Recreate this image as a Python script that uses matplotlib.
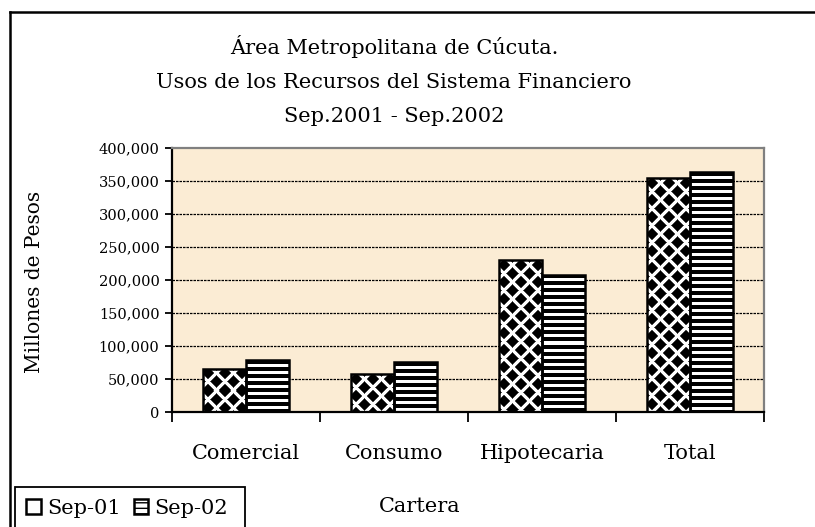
import matplotlib
matplotlib.use("Agg")
import matplotlib.pyplot as plt
from matplotlib.patches import Rectangle, Patch
from matplotlib.lines import Line2D
import numpy as np

categories = ["Comercial", "Consumo", "Hipotecaria", "Total"]
sep01 = [65600, 57100, 229800, 354000]
sep02 = [78300, 75300, 208000, 363100]
series_labels = ["Sep-01", "Sep-02"]
y_ticks = [0, 50000, 100000, 150000, 200000, 250000, 300000, 350000, 400000]

W, H = 815, 527
SERIF = "DejaVu Serif"
PAPER = "#FBECD4"

plt.rcParams["font.family"] = SERIF


def pattern(w, h, kind):
    yy, xx = np.mgrid[0:h, 0:w]
    if kind == "diamond":
        p = 17
        u = (xx + 4) % p
        v = (yy + 4) % p
        centers = [(0, 0), (p, 0), (0, p), (p, p), (p / 2, p / 2)]
        d = np.min([np.abs(u - cx) + np.abs(v - cy) for cx, cy in centers], axis=0)
        return np.clip((d - 5.6) / 1.3, 0, 1)
    return ((yy % 7) >= 4).astype(float)


def fill_bar(ax, bar, kind):
    bb = bar.get_window_extent()
    w = max(int(round(bb.width)), 1)
    h = max(int(round(bb.height)), 1)
    x0, y0 = bar.get_x(), bar.get_y()
    x1, y1 = x0 + bar.get_width(), y0 + bar.get_height()
    im = ax.imshow(pattern(w, h, kind), extent=(x0, x1, y0, y1), cmap="gray",
                   vmin=0, vmax=1, interpolation="nearest", aspect="auto", zorder=2)
    im.set_clip_path(bar)


fig = plt.figure(figsize=(W / 100, H / 100), dpi=100)
ax = fig.add_axes([172 / W, 1 - 412 / H, (764 - 172) / W, (412 - 148) / H])
ax.set_facecolor(PAPER)

x = np.arange(len(categories))
bw = 0.29
ax.set_xlim(-0.5, len(categories) - 0.5)
ax.set_ylim(0, 400000)

b1 = ax.bar(x - bw / 2, sep01, bw, facecolor="none", edgecolor="black", linewidth=1.8, zorder=3)
b2 = ax.bar(x + bw / 2, sep02, bw, facecolor="none", edgecolor="black", linewidth=1.8, zorder=3)
for bar in b1:
    fill_bar(ax, bar, "diamond")
for bar in b2:
    fill_bar(ax, bar, "stripes")
ax.set_xlim(-0.5, len(categories) - 0.5)
ax.set_ylim(0, 400000)

ax.set_yticks(y_ticks)
ax.set_yticklabels([f"{v:,}" for v in y_ticks], fontsize=10.5)
for v in y_ticks[1:-1]:
    ax.axhline(v, color="black", linewidth=0.9, linestyle=(0, (2, 0.8)), zorder=1)

ax.set_xticks(np.arange(len(categories) + 1) - 0.5)
ax.set_xticklabels([])
ax.set_xticks(x, minor=True)
ax.set_xticklabels(categories, minor=True, fontsize=15)
ax.tick_params(axis="x", which="major", direction="out", length=7, width=1.3)
ax.tick_params(axis="x", which="minor", length=0, pad=23)
ax.tick_params(axis="y", direction="out", length=5, width=1.3, pad=4)

for s in ["left", "bottom"]:
    ax.spines[s].set_linewidth(1.6)
    ax.spines[s].set_color("black")
for s in ["top", "right"]:
    ax.spines[s].set_linewidth(1.6)
    ax.spines[s].set_color("#808080")

fig.text(35 / W, 1 - 282 / H, "Millones de Pesos", rotation=90, ha="center", va="center", fontsize=14.5)
fig.text(420 / W, 1 - 506 / H, "Cartera", ha="center", va="center", fontsize=15)

titles = ["Área Metropolitana de Cúcuta.", "Usos de los Recursos del Sistema Financiero", "Sep.2001 - Sep.2002"]
for t, yy in zip(titles, [47, 83, 116]):
    fig.text(394 / W, 1 - yy / H, t, ha="center", va="center", fontsize=15)

# outer frame (left and top edges visible)
fig.add_artist(Line2D([10 / W, 10 / W], [0, 1 - 12 / H], color="black", linewidth=1.8))
fig.add_artist(Line2D([10 / W, 1], [1 - 12 / H, 1 - 12 / H], color="black", linewidth=1.8))

# legend box
fig.add_artist(Rectangle((15 / W, -0.01), (245 - 15) / W, 0.01 + (527 - 487) / H,
                         transform=fig.transFigure, facecolor="white", edgecolor="black", linewidth=1.3))
handles = [Patch(facecolor="white", edgecolor="black", linewidth=1.8),
           Patch(facecolor="white", edgecolor="black", linewidth=1.8, hatch="---")]
leg = fig.legend(handles, series_labels, loc="center left", bbox_to_anchor=(16 / W, 1 - 508 / H),
                 ncol=2, frameon=False, fontsize=15, handlelength=0.7, handleheight=0.7,
                 handletextpad=0.3, columnspacing=0.6, borderpad=0)

fig.savefig("out.png", dpi=100)
